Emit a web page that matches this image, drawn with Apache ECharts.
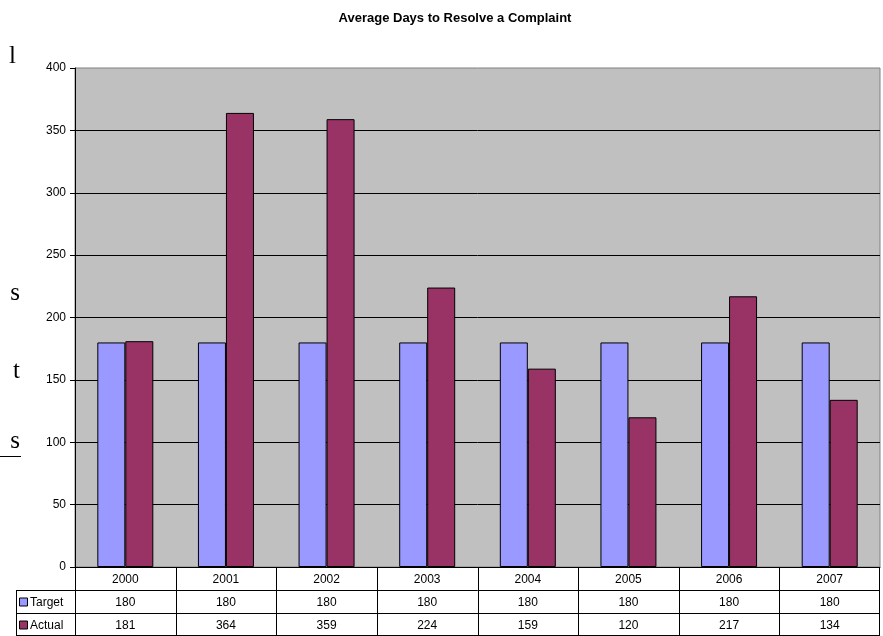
<!DOCTYPE html>
<html><head><meta charset="utf-8">
<script src="https://cdn.jsdelivr.net/npm/echarts@6/dist/echarts.min.js"></script>
<style>html,body{margin:0;padding:0;background:#fff}#c{width:883px;height:636px}</style>
</head><body><div id="c"></div>
<script>
var years = ['2000','2001','2002','2003','2004','2005','2006','2007'];
var target = [180,180,180,180,180,180,180,180];
var actual = [181,364,359,224,159,120,217,134];
var yTicks = [0,50,100,150,200,250,300,350,400];
var seriesNames = ['Target','Actual'];
var colors = ['#9999FF','#993366'];
var sideText = ['l','s','t','s'];

var L = 75, T = 68, R = 880, B = 567;
var rowH = 23;
var colW = (R - L) / years.length;
var font = 'Arial, "Liberation Sans", sans-serif';

var g = [];
function line(x1,y1,x2,y2,c){g.push({type:'line',shape:{x1:x1,y1:y1,x2:x2,y2:y2},style:{stroke:c||'#000',lineWidth:1},silent:true,z:10});}
// table grid
line(L, B+rowH+0.5, R, B+rowH+0.5);
line(16, B+rowH+0.5, L, B+rowH+0.5);
line(16, B+2*rowH+0.5, R, B+2*rowH+0.5);
line(16, 635.5, R, 635.5);
line(16.5, B+rowH, 16.5, 636);
for (var k=0;k<=years.length;k++){var x=Math.round(L+k*colW)+0.5; if(k===years.length)x=R-0.5; line(x,B,x,636);}
// table text
var rows = [years, target, actual];
for (var r=0;r<3;r++){
  for (var i=0;i<years.length;i++){
    g.push({type:'text',x:L+(i+0.5)*colW,y:B+r*rowH+rowH/2+1,style:{text:String(rows[r][i]),font:'12px '+font,fill:'#000',textAlign:'center',textVerticalAlign:'middle'},z:11});
  }
}
for (var s=0;s<2;s++){
  var yy = B+(s+1)*rowH+rowH/2+1;
  g.push({type:'rect',shape:{x:19.5,y:yy-4.5,width:8,height:8},style:{fill:colors[s],stroke:'#000',lineWidth:1},z:11});
  g.push({type:'text',x:30,y:yy,style:{text:seriesNames[s],font:'12px '+font,fill:'#000',textAlign:'left',textVerticalAlign:'middle'},z:11});
}
// stray document text at left edge
var sideY = [69, 306, 384, 454];
for (var j=0;j<sideText.length;j++){
  g.push({type:'text',x:j===0?16:20,y:sideY[j],style:{text:sideText[j],font:'25px "Liberation Serif", "DejaVu Serif", serif',fill:'#000',textAlign:'right',textVerticalAlign:'bottom'},z:11});
}
line(0, 456.5, 21, 456.5);

var chart = echarts.init(document.getElementById('c'));
chart.setOption({
  animation:false,
  backgroundColor:'#fff',
  title:{text:'Average Days to Resolve a Complaint',left:450,top:7,textAlign:'center',textStyle:{fontFamily:font,fontSize:13,fontWeight:'bold',color:'#000'}},
  grid:{left:L,top:T,right:883-R,bottom:636-B,show:true,backgroundColor:'#C0C0C0',borderColor:'#808080',borderWidth:1},
  xAxis:{type:'category',data:years,axisLabel:{show:false},axisTick:{show:false},axisLine:{show:true,lineStyle:{color:'#000'}}},
  yAxis:{type:'value',min:yTicks[0],max:yTicks[yTicks.length-1],interval:yTicks[1]-yTicks[0],
    axisLine:{show:true,lineStyle:{color:'#000'}},axisTick:{show:true,length:5,lineStyle:{color:'#000'}},
    axisLabel:{color:'#000',fontFamily:font,fontSize:12,margin:9},
    splitLine:{showMaxLine:false,lineStyle:{color:'#000',width:1}}},
  series:[
    {name:seriesNames[0],type:'bar',data:target,barWidth:28,barGap:'0%',itemStyle:{color:colors[0],borderColor:'#000',borderWidth:1}},
    {name:seriesNames[1],type:'bar',data:actual,barWidth:28,barGap:'0%',itemStyle:{color:colors[1],borderColor:'#000',borderWidth:1}}
  ],
  graphic:g
});
</script></body></html>
